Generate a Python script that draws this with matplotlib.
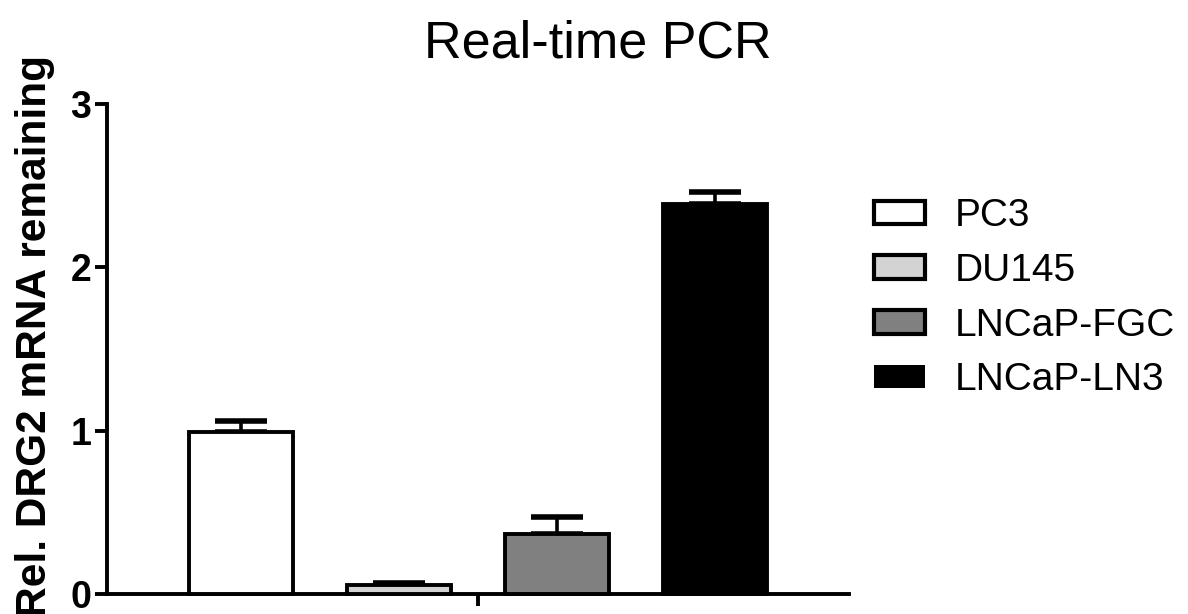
import matplotlib
matplotlib.use("Agg")
import matplotlib.pyplot as plt
from matplotlib.patches import Patch

plt.rcParams['font.family'] = ['Liberation Sans', 'DejaVu Sans']

categories = ["PC3", "DU145", "LNCaP-FGC", "LNCaP-LN3"]
means = [0.99, 0.055, 0.37, 2.39]
errors = [0.07, 0.012, 0.10, 0.07]
colors = ["#ffffff", "#d3d3d3", "#808080", "#000000"]
yticks = [0, 1, 2, 3]

fig = plt.figure(figsize=(11.88, 6.14), dpi=100)
ax = fig.add_axes([0.0901, 0.0326, 0.6246, 0.798])

x = list(range(len(categories)))
ax.errorbar(x, means, yerr=[[0] * len(errors), errors], fmt="none",
            ecolor="black", elinewidth=2.6, capsize=19, capthick=4, zorder=2)
ax.bar(x, means, width=0.66, color=colors, edgecolor="black", linewidth=2.8,
       zorder=3, clip_on=False)

ax.set_ylim(0, 3)
ax.set_xlim(-0.848, 3.848)
ax.set_yticks(yticks)
ax.set_yticklabels([str(t) for t in yticks], fontsize=27, fontweight="bold")
ax.set_xticks([1.5])
ax.set_xticklabels([""])
ax.tick_params(axis="both", direction="out", length=8.5, width=2.8, pad=3)

for s in ["top", "right"]:
    ax.spines[s].set_visible(False)
for s in ["left", "bottom"]:
    ax.spines[s].set_linewidth(2.8)

ax.set_ylabel("")
fig.text(46 / 1188, 0.452, "Rel. DRG2 mRNA remaining", fontsize=30.5, fontweight="bold",
         rotation=90, rotation_mode="anchor", ha="center", va="baseline")
fig.text(0.503, 0.928, "Real-time PCR", fontsize=37.5, ha="center", va="center")

handles = [Patch(facecolor=c, edgecolor="black", linewidth=(0 if c == "#000000" else 3))
           for c in colors]
fig.legend(handles, categories, loc="upper left", bbox_to_anchor=(0.7355, 0.677),
           frameon=False, fontsize=28, handlelength=1.31, handleheight=0.56,
           handletextpad=0.78, labelspacing=0.48, borderaxespad=0, borderpad=0)

fig.savefig("out.png", dpi=100)
